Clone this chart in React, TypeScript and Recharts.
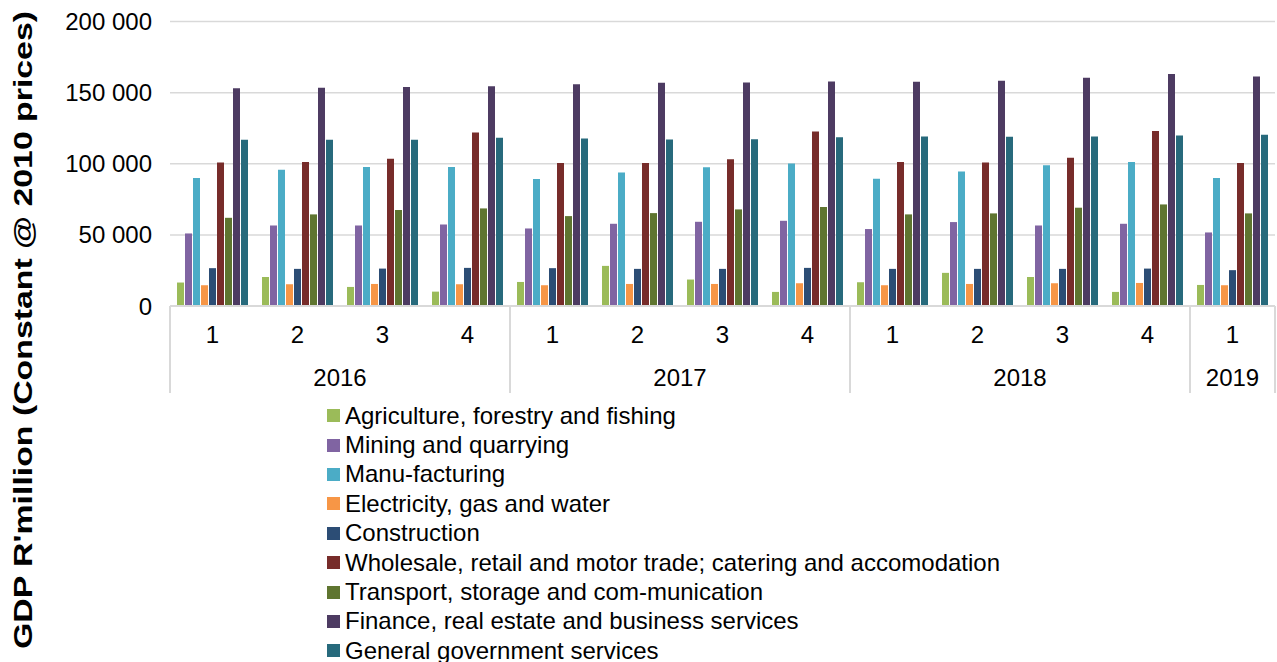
import { BarChart, Bar, XAxis, YAxis, CartesianGrid, Legend } from "recharts";

// categories: quarter + year (two-level axis)
const quarters = ["1", "2", "3", "4", "1", "2", "3", "4", "1", "2", "3", "4", "1"];
const years = ["2016", "2016", "2016", "2016", "2017", "2017", "2017", "2017", "2018", "2018", "2018", "2018", "2019"];

// GDP R'million, constant 2010 prices
const agriculture = [16500, 20400, 13400, 10100, 16900, 28200, 18600, 9900, 16700, 23300, 20400, 9900, 14800];
const mining = [51000, 56600, 56600, 57300, 54500, 57800, 59200, 59900, 54100, 59000, 56600, 57800, 51700];
const manufacturing = [90000, 95700, 97800, 97800, 89300, 93800, 97500, 100100, 89500, 94500, 98900, 101300, 90000];
const electricity = [14600, 15300, 15500, 15300, 14600, 15500, 15500, 16000, 14600, 15500, 16000, 16200, 14600];
const construction = [26600, 26100, 26300, 26800, 26600, 26100, 26100, 26800, 26100, 26100, 26100, 26300, 25200];
const wholesale = [100800, 101300, 103600, 122000, 100600, 100600, 103200, 122700, 101300, 100800, 104300, 123100, 100600];
const transport = [62000, 64400, 67500, 68600, 63200, 65300, 67900, 69600, 64400, 65100, 69100, 71400, 65100];
const finance = [153000, 153500, 153900, 154400, 155800, 157000, 157200, 157900, 157700, 158400, 160500, 163100, 161400];
const government = [116800, 116800, 116800, 118200, 117700, 117000, 117300, 118700, 119100, 118900, 119100, 119900, 120300];

const yTicks = [0, 50000, 100000, 150000, 200000];

const SERIES = [
  { key: "agri", name: "Agriculture, forestry and fishing", values: agriculture, color: "#9BBB59" },
  { key: "mining", name: "Mining and quarrying", values: mining, color: "#8064A2" },
  { key: "manu", name: "Manu-facturing", values: manufacturing, color: "#4BACC6" },
  { key: "elec", name: "Electricity, gas and water", values: electricity, color: "#F79646" },
  { key: "constr", name: "Construction", values: construction, color: "#2C4D75" },
  { key: "trade", name: "Wholesale, retail and motor trade; catering and accomodation", values: wholesale, color: "#772C2A" },
  { key: "transport", name: "Transport, storage and com-munication", values: transport, color: "#5F7530" },
  { key: "finance", name: "Finance, real estate and business services", values: finance, color: "#4D3B62" },
  { key: "gov", name: "General government services", values: government, color: "#276A7C" },
];

const data = quarters.map((q, i) => {
  const row: Record<string, string | number> = { id: `${years[i]}-${q}`, quarter: q, year: years[i] };
  SERIES.forEach((s) => {
    row[s.key] = s.values[i];
  });
  return row;
});

const FONT = "'Liberation Sans', Arial, sans-serif";
const GRID = "#d9d9d9";
const FS = 24;

const fmt = (v: number) => String(v).replace(/\B(?=(\d{3})+(?!\d))/g, " ");

// quarter label + year label + year separators
function QuarterYearTick(props: any) {
  const { x, y, width, visibleTicksCount, index } = props;
  const band = width / visibleTicksCount;
  const left = x - band / 2;
  const yr = years[index];
  const first = years.indexOf(yr) === index;
  const count = years.filter((v) => v === yr).length;
  const isLast = index === visibleTicksCount - 1;
  return (
    <g>
      <text x={x} y={y + 37} textAnchor="middle" fontSize={FS} fontFamily={FONT} fill="#000">
        {quarters[index]}
      </text>
      {first && (
        <>
          <line x1={left} x2={left} y1={y} y2={y + 87} stroke={GRID} strokeWidth={2} />
          <text x={left + (count * band) / 2} y={y + 80} textAnchor="middle" fontSize={FS} fontFamily={FONT} fill="#000">
            {yr}
          </text>
        </>
      )}
      {isLast && <line x1={left + band} x2={left + band} y1={y} y2={y + 87} stroke={GRID} strokeWidth={2} />}
    </g>
  );
}

function YLabel() {
  return (
    <text
      transform="translate(32, 330) rotate(-90)"
      textAnchor="middle"
      fontSize={25}
      fontWeight="bold"
      fontFamily={FONT}
      fill="#000"
      textLength={638}
      lengthAdjust="spacingAndGlyphs"
    >
      GDP R'million (Constant @ 2010 prices)
    </text>
  );
}

function LegendList() {
  return (
    <div style={{ fontFamily: FONT, fontSize: FS, color: "#000" }}>
      {SERIES.map((s) => (
        <div key={s.key} style={{ display: "flex", alignItems: "center", height: 29.4, whiteSpace: "nowrap" }}>
          <span style={{ width: 13, height: 13, background: s.color, marginRight: 5, flex: "none" }} />
          <span>{s.name}</span>
        </div>
      ))}
    </div>
  );
}

export default function App() {
  return (
    <div style={{ position: "absolute", left: 0, top: 0, width: 1277, height: 662, overflow: "hidden", background: "#fff" }}>
      <BarChart
        width={1277}
        height={662}
        data={data}
        margin={{ top: 21.5, right: 2, bottom: 262, left: 0 }}
        barSize={7}
        barGap={1}
      >
        <CartesianGrid vertical={false} stroke={GRID} strokeWidth={1.5} />
        <XAxis
          dataKey="id"
          interval={0}
          height={94}
          tickSize={0}
          tickMargin={0}
          tickLine={false}
          axisLine={{ stroke: GRID, strokeWidth: 2 }}
          tick={<QuarterYearTick />}
        />
        <YAxis
          width={170}
          domain={[0, 200000]}
          ticks={yTicks}
          tickFormatter={fmt}
          axisLine={false}
          tickLine={false}
          tickSize={6}
          tickMargin={12}
          tick={{ fontSize: FS, fontFamily: FONT, fill: "#000" }}
          label={<YLabel />}
        />
        <Legend
          layout="vertical"
          align="center"
          verticalAlign="middle"
          content={<LegendList />}
          wrapperStyle={{ position: "absolute", left: 327, top: 401, width: "auto" }}
        />
        {SERIES.map((s) => (
          <Bar key={s.key} dataKey={s.key} name={s.name} fill={s.color} isAnimationActive={false} />
        ))}
      </BarChart>
    </div>
  );
}
